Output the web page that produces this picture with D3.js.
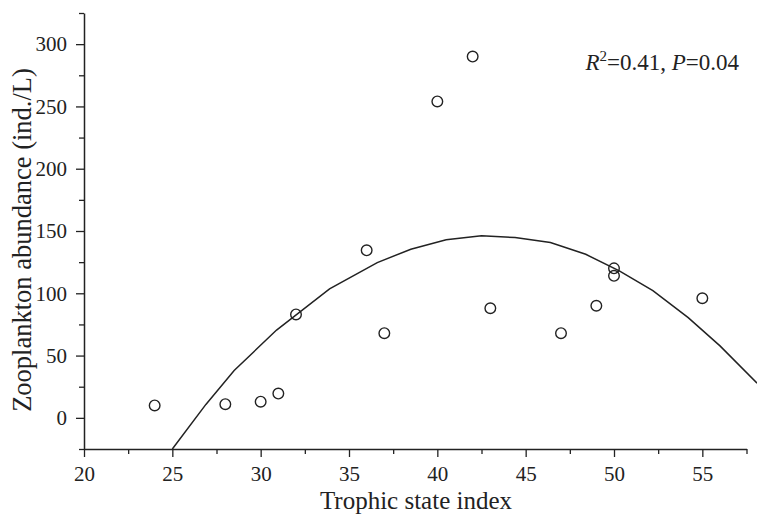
<!DOCTYPE html>
<html>
<head>
<meta charset="utf-8">
<script src="https://cdn.jsdelivr.net/npm/d3@7"></script>
<style>
  body { margin: 0; background: #fff; }
  svg { display: block; }
  text { font-family: "Liberation Serif", "Times New Roman", serif; fill: #222; }
</style>
</head>
<body>
<svg id="chart" width="757" height="514"></svg>
<script>
// observed points (trophic state index vs zooplankton abundance)
var tsi = [24, 28, 30, 31, 32, 36, 37, 40, 42, 43, 47, 49, 50, 50, 55];
var abundance = [10, 11, 13, 19.5, 83, 134.5, 68, 254, 290, 88, 68, 90, 120, 114, 96];

// fitted curve
var fitX = [25.0, 26.9, 28.5, 30.9, 33.9, 36.6, 38.5, 40.5, 42.5, 44.4, 46.4, 48.4, 50.3, 52.2, 54.2, 56.0, 58.1];
var fitY = [-25, 10.8, 38, 70.5, 103.5, 124.6, 135.4, 142.9, 146.1, 144.7, 140.7, 131.3, 118, 102.2, 80.5, 57.8, 27.8];

var xMajor = [20, 25, 30, 35, 40, 45, 50, 55];
var yMajor = [0, 50, 100, 150, 200, 250, 300];

var svg = d3.select("#chart");
var ink = "#222";

var x = d3.scaleLinear().domain([20, 57.5]).range([84, 746.5]);
var y = d3.scaleLinear().domain([-25, 325]).range([449, 13]);

// x axis, minor ticks first then major ones
var xMinor = d3.range(22.5, 57.6, 5);
svg.append("g")
  .attr("transform", "translate(0,449)")
  .call(d3.axisBottom(x).tickValues(xMinor).tickSize(5).tickFormat(""))
  .call(function (g) { g.select(".domain").remove(); })
  .selectAll("line").attr("stroke", ink).attr("stroke-width", 1.3);

var gx = svg.append("g")
  .attr("transform", "translate(0,449)")
  .call(d3.axisBottom(x).tickValues(xMajor).tickSize(8).tickSizeOuter(0).tickPadding(9));
gx.select(".domain").attr("stroke", ink).attr("stroke-width", 1.5);
gx.selectAll("line").attr("stroke", ink).attr("stroke-width", 1.3);
gx.selectAll("text").style("font-size", "21px").attr("fill", ink);

var yMinor = d3.range(-25, 326, 50);
svg.append("g")
  .attr("transform", "translate(84,0)")
  .call(d3.axisLeft(y).tickValues(yMinor).tickSize(5).tickFormat(""))
  .call(function (g) { g.select(".domain").remove(); })
  .selectAll("line").attr("stroke", ink).attr("stroke-width", 1.3);

var gy = svg.append("g")
  .attr("transform", "translate(84,0)")
  .call(d3.axisLeft(y).tickValues(yMajor).tickSize(8).tickSizeOuter(0).tickPadding(9));
gy.select(".domain").attr("stroke", ink).attr("stroke-width", 1.5);
gy.selectAll("line").attr("stroke", ink).attr("stroke-width", 1.3);
gy.selectAll("text").style("font-size", "21px").attr("fill", ink);

// fitted curve
var line = d3.line()
  .x(function (d) { return x(d[0]); })
  .y(function (d) { return y(d[1]); });
svg.append("path")
  .datum(fitX.map(function (v, i) { return [v, fitY[i]]; }))
  .attr("d", line)
  .attr("fill", "none")
  .attr("stroke", ink)
  .attr("stroke-width", 1.5);

// points
svg.selectAll("circle.pt")
  .data(tsi)
  .enter().append("circle")
  .attr("class", "pt")
  .attr("cx", function (d) { return x(d); })
  .attr("cy", function (d, i) { return y(abundance[i]); })
  .attr("r", 5.3)
  .attr("fill", "none")
  .attr("stroke", ink)
  .attr("stroke-width", 1.4);

// titles
svg.append("text")
  .attr("x", 416).attr("y", 509)
  .attr("text-anchor", "middle")
  .style("font-size", "25px")
  .text("Trophic state index");

svg.append("text")
  .attr("transform", "translate(31,240) rotate(-90)")
  .attr("text-anchor", "middle")
  .style("font-size", "26.5px")
  .text("Zooplankton abundance (ind./L)");

// statistics label
var stat = svg.append("text")
  .attr("x", 739).attr("y", 70)
  .attr("text-anchor", "end")
  .style("font-size", "23px");
stat.append("tspan").style("font-style", "italic").text("R");
stat.append("tspan").attr("dy", -9).style("font-size", "15px").text("2");
stat.append("tspan").attr("dy", 9).text("=0.41,  ");
stat.append("tspan").style("font-style", "italic").text("P");
stat.append("tspan").text("=0.04");
</script>
</body>
</html>
